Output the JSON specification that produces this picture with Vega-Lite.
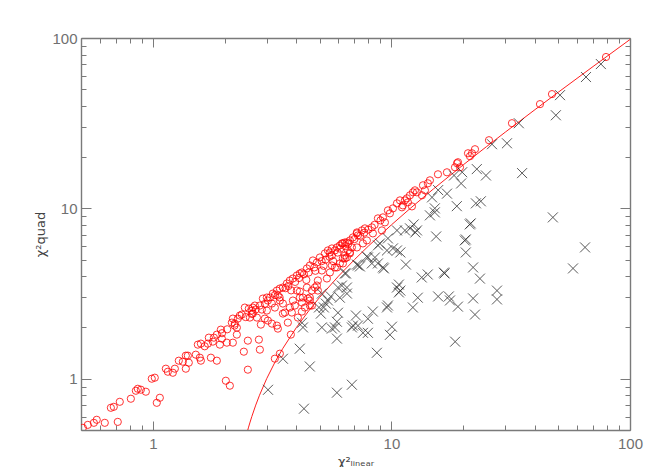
{
  "$schema": "https://vega.github.io/schema/vega-lite/v6.json",
  "width": 549,
  "height": 392,
  "autosize": {"type": "none"},
  "padding": {"left": 81, "top": 38, "right": 24, "bottom": 37},
  "background": "white",
  "config": {
    "view": {"stroke": null},
    "axis": {
      "domainColor": "#7a7a7a",
      "domainWidth": 1.4,
      "tickColor": "#7a7a7a",
      "tickWidth": 1,
      "grid": false,
      "labelFont": "Liberation Sans",
      "labelFontSize": 15,
      "labelColor": "#707070",
      "labelOverlap": false,
      "labelFlush": false,
      "titleFont": "DejaVu Sans",
      "titleFontWeight": "normal",
      "titleFontSize": 13,
      "titleColor": "#444444"
    }
  },
  "datasets": {
    "curve": [
      {"x": 2.5, "y": 0.5}, {"x": 2.52, "y": 0.52}, {"x": 2.55, "y": 0.55}, {"x": 2.6, "y": 0.6},
      {"x": 2.7, "y": 0.7}, {"x": 2.8, "y": 0.8}, {"x": 3, "y": 1}, {"x": 3.25, "y": 1.25},
      {"x": 3.5, "y": 1.5}, {"x": 4, "y": 2}, {"x": 4.5, "y": 2.5}, {"x": 5, "y": 3},
      {"x": 6, "y": 4}, {"x": 7, "y": 5}, {"x": 8, "y": 6}, {"x": 10, "y": 8},
      {"x": 12, "y": 10}, {"x": 15, "y": 13}, {"x": 20, "y": 18}, {"x": 25, "y": 23},
      {"x": 30, "y": 28}, {"x": 40, "y": 38}, {"x": 50, "y": 48}, {"x": 70, "y": 68},
      {"x": 100, "y": 98}
    ],
    "circles": [
      {"x": 0.509, "y": 0.515}, {"x": 0.534, "y": 0.536}, {"x": 0.566, "y": 0.551}, {"x": 0.582, "y": 0.574},
      {"x": 0.629, "y": 0.551}, {"x": 0.713, "y": 0.558}, {"x": 0.667, "y": 0.675}, {"x": 0.686, "y": 0.684},
      {"x": 0.727, "y": 0.732}, {"x": 0.809, "y": 0.763}, {"x": 0.849, "y": 0.85}, {"x": 0.865, "y": 0.873},
      {"x": 0.891, "y": 0.862}, {"x": 0.935, "y": 0.839}, {"x": 0.99, "y": 1.0}, {"x": 1.019, "y": 1.014},
      {"x": 1.039, "y": 0.722}, {"x": 1.07, "y": 0.773}, {"x": 1.134, "y": 1.145}, {"x": 1.156, "y": 1.099},
      {"x": 1.213, "y": 1.084}, {"x": 1.237, "y": 1.145}, {"x": 1.285, "y": 1.276}, {"x": 1.336, "y": 1.259},
      {"x": 1.375, "y": 1.366}, {"x": 1.402, "y": 1.366}, {"x": 1.375, "y": 1.145}, {"x": 1.415, "y": 1.242},
      {"x": 1.514, "y": 1.384}, {"x": 1.544, "y": 1.585}, {"x": 1.59, "y": 1.607}, {"x": 1.574, "y": 1.329},
      {"x": 1.59, "y": 1.276}, {"x": 1.701, "y": 1.607}, {"x": 1.717, "y": 1.742}, {"x": 1.785, "y": 1.651},
      {"x": 1.803, "y": 1.742}, {"x": 1.855, "y": 1.815}, {"x": 1.751, "y": 1.329}, {"x": 1.855, "y": 1.276},
      {"x": 1.928, "y": 1.942}, {"x": 1.947, "y": 1.719}, {"x": 1.91, "y": 1.585}, {"x": 2.043, "y": 1.628},
      {"x": 2.023, "y": 0.973}, {"x": 2.103, "y": 0.91}, {"x": 2.144, "y": 2.135}, {"x": 2.207, "y": 2.106},
      {"x": 2.272, "y": 2.254}, {"x": 2.361, "y": 2.379}, {"x": 2.25, "y": 1.995}, {"x": 2.25, "y": 1.815},
      {"x": 2.165, "y": 1.628}, {"x": 2.407, "y": 1.441}, {"x": 2.502, "y": 1.673}, {"x": 2.502, "y": 1.13},
      {"x": 2.526, "y": 2.58}, {"x": 2.601, "y": 2.512}, {"x": 2.626, "y": 2.616}, {"x": 2.551, "y": 2.285},
      {"x": 2.73, "y": 2.285}, {"x": 2.864, "y": 2.546}, {"x": 2.81, "y": 2.688}, {"x": 2.892, "y": 2.955},
      {"x": 3.006, "y": 2.996}, {"x": 3.035, "y": 2.877}, {"x": 3.155, "y": 2.762}, {"x": 3.185, "y": 3.162},
      {"x": 3.311, "y": 3.293}, {"x": 3.343, "y": 3.078}, {"x": 3.247, "y": 2.616}, {"x": 3.035, "y": 2.194},
      {"x": 3.155, "y": 2.106}, {"x": 2.837, "y": 2.078}, {"x": 2.783, "y": 1.696}, {"x": 2.81, "y": 1.481},
      {"x": 3.343, "y": 1.968}, {"x": 3.247, "y": 1.311}, {"x": 3.408, "y": 1.403}, {"x": 3.789, "y": 1.815},
      {"x": 2.165, "y": 2.254}, {"x": 2.316, "y": 2.348}, {"x": 2.43, "y": 2.616}, {"x": 2.677, "y": 2.688},
      {"x": 2.626, "y": 2.412}, {"x": 3.408, "y": 3.384}, {"x": 3.509, "y": 3.43}, {"x": 3.646, "y": 3.622},
      {"x": 3.752, "y": 3.772}, {"x": 3.864, "y": 3.875}, {"x": 4.016, "y": 4.036}, {"x": 4.134, "y": 4.147},
      {"x": 4.215, "y": 4.204}, {"x": 4.423, "y": 4.437}, {"x": 4.553, "y": 4.621}, {"x": 4.687, "y": 4.945},
      {"x": 4.871, "y": 4.813}, {"x": 5.014, "y": 5.15}, {"x": 5.263, "y": 5.437}, {"x": 5.418, "y": 5.662},
      {"x": 5.523, "y": 5.511}, {"x": 5.631, "y": 5.291}, {"x": 5.796, "y": 5.662}, {"x": 6.082, "y": 6.059},
      {"x": 6.261, "y": 6.226}, {"x": 6.508, "y": 6.31}, {"x": 6.699, "y": 6.483}, {"x": 6.897, "y": 6.752},
      {"x": 7.168, "y": 7.225}, {"x": 7.237, "y": 6.938}, {"x": 3.006, "y": 2.512}, {"x": 3.408, "y": 2.877},
      {"x": 3.752, "y": 2.616}, {"x": 3.864, "y": 2.877}, {"x": 4.016, "y": 3.293}, {"x": 4.134, "y": 2.996},
      {"x": 4.423, "y": 3.43}, {"x": 4.553, "y": 2.996}, {"x": 4.642, "y": 3.293}, {"x": 4.779, "y": 3.43},
      {"x": 4.918, "y": 3.772}, {"x": 5.112, "y": 4.318}, {"x": 5.366, "y": 3.875}, {"x": 5.523, "y": 4.204},
      {"x": 5.909, "y": 4.498}, {"x": 6.082, "y": 4.748}, {"x": 6.261, "y": 5.081}, {"x": 6.383, "y": 5.291},
      {"x": 6.571, "y": 5.662}, {"x": 6.83, "y": 5.897}, {"x": 3.311, "y": 2.05}, {"x": 3.509, "y": 2.412},
      {"x": 3.681, "y": 2.135}, {"x": 4.215, "y": 2.8}, {"x": 4.339, "y": 2.616}, {"x": 4.553, "y": 2.688},
      {"x": 4.871, "y": 3.524}, {"x": 4.918, "y": 3.293}, {"x": 4.255, "y": 2.996}, {"x": 4.642, "y": 2.688},
      {"x": 2.948, "y": 2.254}, {"x": 4.466, "y": 2.955}, {"x": 3.577, "y": 2.445}, {"x": 3.825, "y": 2.445},
      {"x": 4.055, "y": 2.285}, {"x": 4.215, "y": 2.478}, {"x": 3.939, "y": 2.688}, {"x": 3.509, "y": 2.762},
      {"x": 4.553, "y": 2.877}, {"x": 4.134, "y": 3.249}, {"x": 5.631, "y": 4.621}, {"x": 6.261, "y": 4.748},
      {"x": 6.508, "y": 5.15}, {"x": 6.699, "y": 5.511}, {"x": 22.4, "y": 22.24}, {"x": 21.76, "y": 21.06},
      {"x": 20.94, "y": 21.06}, {"x": 18.83, "y": 18.4}, {"x": 19.01, "y": 18.65}, {"x": 18.47, "y": 17.42},
      {"x": 19.38, "y": 17.42}, {"x": 17.09, "y": 16.28}, {"x": 15.67, "y": 15.85}, {"x": 14.5, "y": 14.61},
      {"x": 14.22, "y": 14.03}, {"x": 13.56, "y": 13.66}, {"x": 13.82, "y": 12.76}, {"x": 12.79, "y": 12.42},
      {"x": 12.31, "y": 12.42}, {"x": 11.96, "y": 11.93}, {"x": 11.61, "y": 11.45}, {"x": 11.73, "y": 10.85},
      {"x": 10.86, "y": 11.14}, {"x": 10.55, "y": 10.7}, {"x": 11.17, "y": 10.41}, {"x": 10.15, "y": 10.0},
      {"x": 9.668, "y": 9.732}, {"x": 9.856, "y": 9.346}, {"x": 9.213, "y": 8.852}, {"x": 8.779, "y": 8.733},
      {"x": 9.393, "y": 8.272}, {"x": 8.283, "y": 7.734}, {"x": 7.744, "y": 7.628}, {"x": 7.522, "y": 7.424},
      {"x": 7.168, "y": 7.129}, {"x": 6.383, "y": 6.31}, {"x": 6.201, "y": 6.226}, {"x": 5.909, "y": 5.897},
      {"x": 5.631, "y": 5.818}, {"x": 9.124, "y": 7.424}, {"x": 8.363, "y": 7.129}, {"x": 7.892, "y": 6.483},
      {"x": 7.596, "y": 6.226}, {"x": 7.168, "y": 5.897}, {"x": 6.699, "y": 5.437}, {"x": 6.383, "y": 5.081},
      {"x": 5.796, "y": 4.498}, {"x": 41.95, "y": 40.91}, {"x": 32.01, "y": 31.62}, {"x": 25.64, "y": 25.12},
      {"x": 21.34, "y": 20.23}, {"x": 12.55, "y": 12.76}, {"x": 13.43, "y": 11.93}, {"x": 11.39, "y": 11.14},
      {"x": 12.19, "y": 10.27}, {"x": 11.07, "y": 10.14}, {"x": 79.34, "y": 77.34}, {"x": 47.1, "y": 46.84},
      {"x": 2.2, "y": 2.05}, {"x": 2.45, "y": 2.3}, {"x": 2.7, "y": 2.55}, {"x": 2.95, "y": 2.75},
      {"x": 3.1, "y": 3.0}, {"x": 3.25, "y": 3.1}, {"x": 3.6, "y": 3.4}, {"x": 3.7, "y": 3.5},
      {"x": 3.95, "y": 3.7}, {"x": 4.1, "y": 3.9}, {"x": 4.3, "y": 4.1}, {"x": 4.5, "y": 4.2},
      {"x": 4.75, "y": 4.5}, {"x": 4.8, "y": 4.3}, {"x": 5.1, "y": 4.9}, {"x": 5.3, "y": 5.0},
      {"x": 5.5, "y": 5.2}, {"x": 5.95, "y": 5.5}, {"x": 6.1, "y": 5.8}, {"x": 6.4, "y": 6.0},
      {"x": 6.6, "y": 6.2}, {"x": 7.0, "y": 6.6}, {"x": 7.4, "y": 6.9}, {"x": 7.7, "y": 7.2},
      {"x": 8.0, "y": 7.5}, {"x": 8.5, "y": 8.0}, {"x": 9.0, "y": 8.5}, {"x": 3.4, "y": 3.0},
      {"x": 3.8, "y": 3.3}, {"x": 4.4, "y": 3.8}, {"x": 5.2, "y": 4.6}, {"x": 5.7, "y": 4.9},
      {"x": 1.65, "y": 1.55}, {"x": 1.95, "y": 1.85}, {"x": 2.05, "y": 1.95}, {"x": 2.6, "y": 2.4}
    ],
    "crosses": [
      {"x": 3.04, "y": 0.861}, {"x": 4.3, "y": 0.667}, {"x": 3.51, "y": 1.31}, {"x": 4.13, "y": 1.5},
      {"x": 4.55, "y": 1.18}, {"x": 5.91, "y": 0.828}, {"x": 6.83, "y": 0.922}, {"x": 8.69, "y": 1.42},
      {"x": 4.22, "y": 2.13}, {"x": 4.26, "y": 2.0}, {"x": 5.11, "y": 2.0}, {"x": 5.06, "y": 2.41},
      {"x": 5.21, "y": 2.62}, {"x": 5.42, "y": 2.88}, {"x": 5.63, "y": 1.97}, {"x": 5.8, "y": 2.0},
      {"x": 5.91, "y": 1.72}, {"x": 5.91, "y": 2.16}, {"x": 5.97, "y": 2.44}, {"x": 6.08, "y": 2.99},
      {"x": 6.2, "y": 3.52}, {"x": 6.51, "y": 3.43}, {"x": 6.51, "y": 3.16}, {"x": 6.45, "y": 4.15},
      {"x": 6.83, "y": 2.0}, {"x": 7.1, "y": 2.35}, {"x": 7.24, "y": 2.05}, {"x": 7.6, "y": 1.86},
      {"x": 7.97, "y": 1.86}, {"x": 7.97, "y": 2.25}, {"x": 8.36, "y": 2.48}, {"x": 7.17, "y": 4.68},
      {"x": 7.89, "y": 5.22}, {"x": 8.28, "y": 4.75}, {"x": 8.78, "y": 4.75}, {"x": 9.3, "y": 4.44},
      {"x": 9.58, "y": 2.62}, {"x": 10.05, "y": 2.02}, {"x": 9.86, "y": 1.81}, {"x": 10.75, "y": 3.57},
      {"x": 10.75, "y": 3.21}, {"x": 10.55, "y": 5.66}, {"x": 11.5, "y": 4.68}, {"x": 12.3, "y": 2.62},
      {"x": 12.9, "y": 2.99}, {"x": 13.4, "y": 3.93}, {"x": 14.2, "y": 4.09}, {"x": 15.7, "y": 3.04},
      {"x": 16.7, "y": 4.15}, {"x": 17.4, "y": 3.04}, {"x": 17.6, "y": 2.88}, {"x": 19.0, "y": 2.65},
      {"x": 18.5, "y": 1.65}, {"x": 20.5, "y": 5.51}, {"x": 22.0, "y": 4.5}, {"x": 23.5, "y": 3.87},
      {"x": 22.0, "y": 2.96}, {"x": 22.4, "y": 2.38}, {"x": 5.11, "y": 3.16}, {"x": 5.31, "y": 2.76},
      {"x": 4.97, "y": 2.62}, {"x": 8.78, "y": 6.06}, {"x": 9.58, "y": 5.66}, {"x": 8.53, "y": 5.15},
      {"x": 7.97, "y": 5.15}, {"x": 9.21, "y": 4.5}, {"x": 7.24, "y": 4.62}, {"x": 6.38, "y": 4.15},
      {"x": 5.97, "y": 3.43}, {"x": 10.55, "y": 3.43}, {"x": 9.67, "y": 2.69}, {"x": 6.9, "y": 2.05},
      {"x": 5.57, "y": 3.04}, {"x": 48.9, "y": 35.2}, {"x": 34.2, "y": 31.6}, {"x": 26.4, "y": 23.8},
      {"x": 30.5, "y": 24.1}, {"x": 22.8, "y": 17.0}, {"x": 24.9, "y": 15.6}, {"x": 35.3, "y": 16.1},
      {"x": 19.8, "y": 16.3}, {"x": 18.3, "y": 15.6}, {"x": 19.6, "y": 14.0}, {"x": 23.7, "y": 11.0},
      {"x": 18.8, "y": 10.3}, {"x": 15.7, "y": 12.8}, {"x": 17.1, "y": 12.2}, {"x": 14.8, "y": 11.6},
      {"x": 15.2, "y": 10.0}, {"x": 14.5, "y": 9.1}, {"x": 21.5, "y": 8.16}, {"x": 47.5, "y": 8.85},
      {"x": 64.8, "y": 5.9}, {"x": 57.7, "y": 4.44}, {"x": 20.5, "y": 6.57}, {"x": 15.4, "y": 6.84},
      {"x": 12.4, "y": 8.05}, {"x": 12.6, "y": 7.22}, {"x": 11.4, "y": 7.42}, {"x": 16.6, "y": 4.2},
      {"x": 27.7, "y": 3.29}, {"x": 27.7, "y": 2.92}, {"x": 10.9, "y": 3.29}, {"x": 75.5, "y": 70.3},
      {"x": 65.4, "y": 59.0}, {"x": 50.9, "y": 46.2}, {"x": 15.2, "y": 9.47}, {"x": 12.8, "y": 7.42},
      {"x": 10.55, "y": 7.42}, {"x": 22.6, "y": 10.7}, {"x": 21.3, "y": 8.05}, {"x": 20.3, "y": 6.48},
      {"x": 8.95, "y": 6.22}, {"x": 9.67, "y": 6.66}, {"x": 10.15, "y": 5.82}, {"x": 7.38, "y": 4.56},
      {"x": 11.97, "y": 7.63}, {"x": 10.9, "y": 5.51}
    ]
  },
  "layer": [
    {
      "data": {"name": "curve"},
      "mark": {"type": "line", "color": "#ff2020", "strokeWidth": 1, "clip": true},
      "encoding": {
        "x": {
          "field": "x", "type": "quantitative",
          "scale": {"type": "log", "domain": [0.5, 100], "nice": false},
          "axis": {
            "orient": "bottom",
            "values": [0.5, 0.6, 0.7, 0.8, 0.9, 1, 2, 3, 4, 5, 6, 7, 8, 9, 10, 20, 30, 40, 50, 60, 70, 80, 90, 100],
            "labelExpr": "datum.value == 1 ? '1' : datum.value == 10 ? '10' : datum.value == 100 ? '100' : ''",
            "tickSize": {"condition": {"test": "datum.value == 1 || datum.value == 10 || datum.value == 100", "value": -9}, "value": -5},
            "labelPadding": 15,
            "title": "χ²ₗᵢₙₑₐᵣ",
            "titlePadding": 0
          }
        },
        "y": {
          "field": "y", "type": "quantitative",
          "scale": {"type": "log", "domain": [0.5, 100], "nice": false},
          "axis": {
            "orient": "left",
            "values": [0.5, 0.6, 0.7, 0.8, 0.9, 1, 2, 3, 4, 5, 6, 7, 8, 9, 10, 20, 30, 40, 50, 60, 70, 80, 90, 100],
            "labelExpr": "datum.value == 1 ? '1' : datum.value == 10 ? '10' : datum.value == 100 ? '100' : ''",
            "tickSize": {"condition": {"test": "datum.value == 1 || datum.value == 10 || datum.value == 100", "value": -10}, "value": -5},
            "labelPadding": 14,
            "title": "χ²quad",
            "titlePadding": 4
          }
        }
      }
    },
    {
      "data": {"name": "circles"},
      "mark": {"type": "point", "shape": "circle", "filled": false, "color": "#ff0000", "size": 52, "strokeWidth": 1, "opacity": 0.8, "clip": true},
      "encoding": {
        "x": {"field": "x", "type": "quantitative", "scale": {"type": "log", "domain": [0.5, 100], "nice": false}, "axis": null},
        "y": {"field": "y", "type": "quantitative", "scale": {"type": "log", "domain": [0.5, 100], "nice": false}, "axis": null}
      }
    },
    {
      "data": {"name": "crosses"},
      "mark": {"type": "point", "shape": "M-1,-1L1,1M-1,1L1,-1", "filled": false, "color": "#222222", "size": 100, "strokeWidth": 1, "opacity": 0.75, "clip": true},
      "encoding": {
        "x": {"field": "x", "type": "quantitative", "scale": {"type": "log", "domain": [0.5, 100], "nice": false}, "axis": null},
        "y": {"field": "y", "type": "quantitative", "scale": {"type": "log", "domain": [0.5, 100], "nice": false}, "axis": null}
      }
    },
    {
      "data": {"name": "curve"},
      "mark": {"type": "line", "opacity": 0},
      "encoding": {
        "x": {
          "field": "x", "type": "quantitative",
          "scale": {"type": "log", "domain": [0.5, 100], "nice": false},
          "axis": {
            "orient": "top",
            "values": [0.5, 0.6, 0.7, 0.8, 0.9, 1, 2, 3, 4, 5, 6, 7, 8, 9, 10, 20, 30, 40, 50, 60, 70, 80, 90, 100],
            "labels": false,
            "tickSize": {"condition": {"test": "datum.value == 1 || datum.value == 10 || datum.value == 100", "value": -9}, "value": -5},
            "title": null
          }
        },
        "y": {
          "field": "y", "type": "quantitative",
          "scale": {"type": "log", "domain": [0.5, 100], "nice": false},
          "axis": {
            "orient": "right",
            "values": [0.5, 0.6, 0.7, 0.8, 0.9, 1, 2, 3, 4, 5, 6, 7, 8, 9, 10, 20, 30, 40, 50, 60, 70, 80, 90, 100],
            "labels": false,
            "tickSize": {"condition": {"test": "datum.value == 1 || datum.value == 10 || datum.value == 100", "value": -10}, "value": -5},
            "title": null
          }
        }
      }
    }
  ],
  "resolve": {"axis": {"x": "independent", "y": "independent"}}
}
